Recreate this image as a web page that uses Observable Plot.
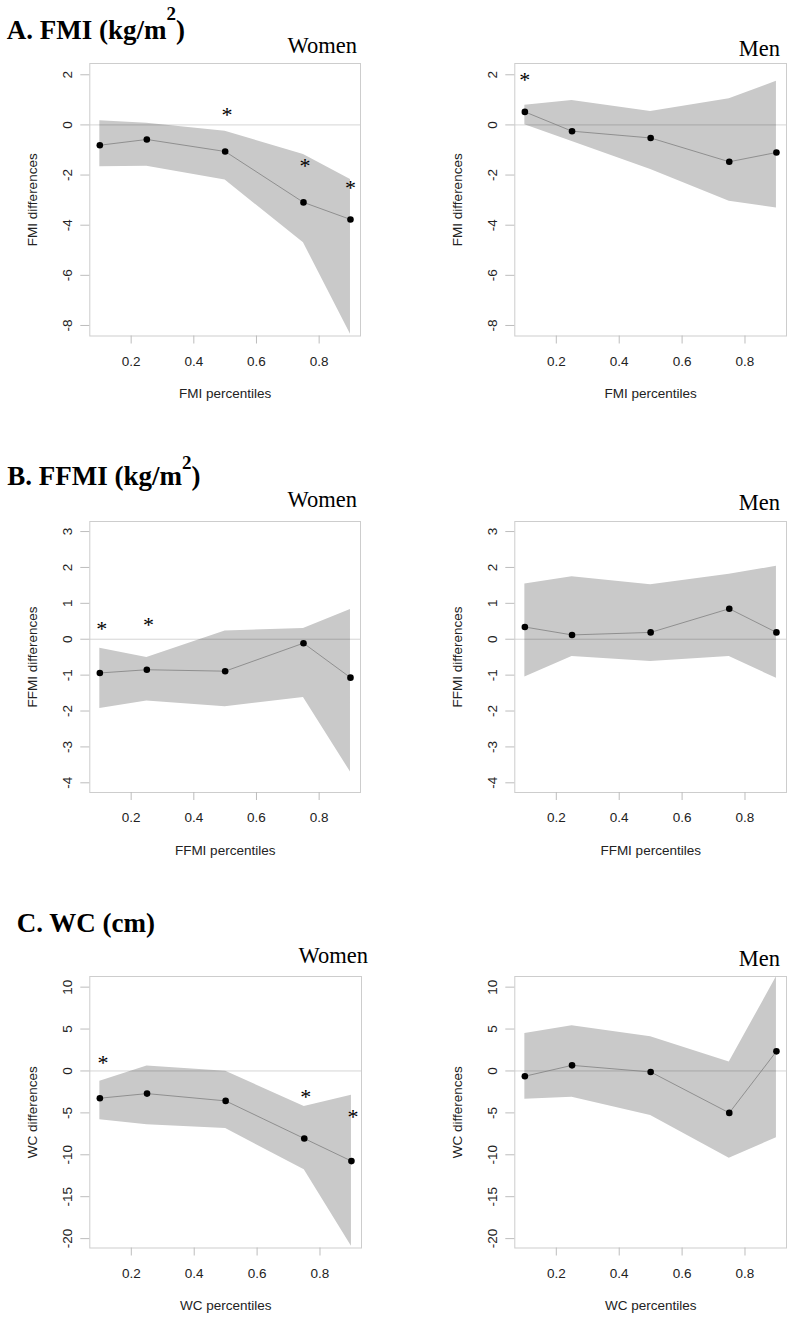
<!DOCTYPE html>
<html><head><meta charset="utf-8">
<script src="https://cdn.jsdelivr.net/npm/d3@7"></script>
<script src="https://cdn.jsdelivr.net/npm/@observablehq/plot@0.6"></script>
<style>
body{margin:0;background:#fff;}
#page{position:relative;width:792px;height:1319px;overflow:hidden;background:#fff;}
#page > svg{position:absolute;}
</style></head><body><div id="page"></div>
<script>
// ---- data ----
const percentiles = [0.1, 0.25, 0.5, 0.75, 0.9];
const xTicks = [0.2, 0.4, 0.6, 0.8];

const fmiWomenEst = [-0.81, -0.58, -1.06, -3.09, -3.77];
const fmiWomenLo  = [-1.67, -1.65, -2.20, -4.70, -8.35];
const fmiWomenHi  = [0.17, 0.07, -0.25, -1.18, -2.18];
const fmiWomenStarX = [0.506, 0.755, 0.9];
const fmiWomenStarY = [0.41, -1.65, -2.51];

const fmiMenEst = [0.52, -0.25, -0.52, -1.47, -1.10];
const fmiMenLo  = [0.01, -0.66, -1.78, -3.04, -3.31];
const fmiMenHi  = [0.78, 0.97, 0.54, 1.04, 1.74];
const fmiMenStarX = [0.1];
const fmiMenStarY = [1.8];

const ffmiWomenEst = [-0.94, -0.85, -0.89, -0.11, -1.07];
const ffmiWomenLo  = [-1.93, -1.72, -1.88, -1.62, -3.70];
const ffmiWomenHi  = [-0.25, -0.51, 0.23, 0.30, 0.83];
const ffmiWomenStarX = [0.106, 0.255];
const ffmiWomenStarY = [0.28, 0.40];

const ffmiMenEst = [0.34, 0.12, 0.19, 0.85, 0.19];
const ffmiMenLo  = [-1.05, -0.48, -0.62, -0.48, -1.09];
const ffmiMenHi  = [1.54, 1.74, 1.52, 1.81, 2.03];
const ffmiMenStarX = [];
const ffmiMenStarY = [];

const wcWomenEst = [-3.25, -2.70, -3.57, -8.06, -10.75];
const wcWomenLo  = [-5.83, -6.43, -6.87, -11.79, -20.9];
const wcWomenHi  = [-1.23, 0.60, -0.02, -4.25, -2.90];
const wcWomenStarX = [0.11, 0.755, 0.905];
const wcWomenStarY = [0.9, -3.13, -5.5];

const wcMenEst = [-0.63, 0.67, -0.12, -5.0, 2.34];
const wcMenLo  = [-3.37, -3.13, -5.32, -10.40, -7.98];
const wcMenHi  = [4.48, 5.40, 4.09, 1.07, 11.23];
const wcMenStarX = [];
const wcMenStarY = [];

const fmiYTicks = [-8, -6, -4, -2, 0, 2];
const ffmiYTicks = [-4, -3, -2, -1, 0, 1, 2, 3];
const wcYTicks = [-20, -15, -10, -5, 0, 5, 10];

const page = document.getElementById("page");

function panel(o) {
  const {est, lo, hi, starX, starY, ylabel, xlabel, yDomain, yTicks, l, r, t, b, col} = o;
  const svgLeft = col === 0 ? 0 : 396;
  const W = 396;
  const svgTop = t - 12;
  const H = (b - t) + 12 + 75;
  const rows = percentiles.map((p, i) => ({p, est: est[i], lo: lo[i], hi: hi[i]}));
  const stars = starX.map((x, i) => ({x, y: starY[i]}));
  const svg = Plot.plot({
    width: W, height: H,
    marginLeft: l - svgLeft, marginRight: svgLeft + W - r,
    marginTop: t - svgTop, marginBottom: svgTop + H - b,
    x: {domain: [0.068, 0.932], label: null},
    y: {domain: yDomain, label: null},
    style: {fontFamily: "'Liberation Sans', Arial, sans-serif", fontSize: "13.5px", color: "#222", background: "transparent", overflow: "visible"},
    marks: [
      Plot.areaY(rows, {x: "p", y1: "lo", y2: "hi", fill: "#c9c9c9"}),
      Plot.ruleY([0], {stroke: "#000", strokeOpacity: 0.17, strokeWidth: 1}),
      Plot.line(rows, {x: "p", y: "est", stroke: "#808080", strokeWidth: 0.8}),
      Plot.dot(rows, {x: "p", y: "est", r: 3.3, fill: "#000", stroke: "none"}),
      Plot.text(stars, {x: "x", y: "y", text: () => "*", fontFamily: "'Liberation Serif', 'Times New Roman', serif", fontSize: 22, dy: 0, fill: "#000"}),
      Plot.frame({stroke: "#cdcdcd"}),
      Plot.axisX({ticks: xTicks, tickSize: 8, tickPadding: 12, stroke: "#bdbdbd", fill: "#222", label: null, tickFormat: d => String(d)}),
      Plot.axisY({ticks: yTicks, tickSize: 9, stroke: "#bdbdbd", tickFormat: () => "", label: null}),
      Plot.text(yTicks, {y: d => d, text: d => String(d), frameAnchor: "left", dx: -22.6, rotate: -90, textAnchor: "middle", lineAnchor: "middle", fill: "#222", fontSize: 13.5}),
      Plot.text([ylabel], {text: d => d, frameAnchor: "left", dx: -57, rotate: -90, textAnchor: "middle", lineAnchor: "middle", fill: "#222", fontSize: 13.5}),
      Plot.text([xlabel], {text: d => d, frameAnchor: "bottom", dy: 58, textAnchor: "middle", lineAnchor: "middle", fill: "#222", fontSize: 13.5})
    ]
  });
  svg.style.left = svgLeft + "px";
  svg.style.top = svgTop + "px";
  page.appendChild(svg);
}

panel({est: fmiWomenEst, lo: fmiWomenLo, hi: fmiWomenHi, starX: fmiWomenStarX, starY: fmiWomenStarY,
  ylabel: "FMI differences", xlabel: "FMI percentiles", yDomain: [-8.42, 2.45], yTicks: fmiYTicks,
  l: 89.3, r: 360, t: 62.5, b: 335, col: 0});
panel({est: fmiMenEst, lo: fmiMenLo, hi: fmiMenHi, starX: fmiMenStarX, starY: fmiMenStarY,
  ylabel: "FMI differences", xlabel: "FMI percentiles", yDomain: [-8.42, 2.45], yTicks: fmiYTicks,
  l: 514.3, r: 786, t: 62.5, b: 335, col: 1});
panel({est: ffmiWomenEst, lo: ffmiWomenLo, hi: ffmiWomenHi, starX: ffmiWomenStarX, starY: ffmiWomenStarY,
  ylabel: "FFMI differences", xlabel: "FFMI percentiles", yDomain: [-4.27, 3.28], yTicks: ffmiYTicks,
  l: 89.3, r: 360, t: 520.7, b: 791.7, col: 0});
panel({est: ffmiMenEst, lo: ffmiMenLo, hi: ffmiMenHi, starX: ffmiMenStarX, starY: ffmiMenStarY,
  ylabel: "FFMI differences", xlabel: "FFMI percentiles", yDomain: [-4.27, 3.28], yTicks: ffmiYTicks,
  l: 514.3, r: 786, t: 520.7, b: 791.7, col: 1});
panel({est: wcWomenEst, lo: wcWomenLo, hi: wcWomenHi, starX: wcWomenStarX, starY: wcWomenStarY,
  ylabel: "WC differences", xlabel: "WC percentiles", yDomain: [-21.12, 11.27], yTicks: wcYTicks,
  l: 89.3, r: 361, t: 976.3, b: 1247.8, col: 0});
panel({est: wcMenEst, lo: wcMenLo, hi: wcMenHi, starX: wcMenStarX, starY: wcMenStarY,
  ylabel: "WC differences", xlabel: "WC percentiles", yDomain: [-21.12, 11.27], yTicks: wcYTicks,
  l: 514.3, r: 786, t: 976.3, b: 1247.8, col: 1});

// ---- titles and sex labels ----
const overlay = d3.create("svg").attr("width", 792).attr("height", 1319)
  .style("left", "0px").style("top", "0px").style("pointer-events", "none");
const serif = "'Liberation Serif', 'Times New Roman', serif";

function sectionTitle(x, y, main, supDy) {
  const t = overlay.append("text").attr("x", x).attr("y", y)
    .attr("font-family", serif).attr("font-weight", "bold").attr("font-size", 27).attr("fill", "#000");
  t.append("tspan").text(main);
  if (supDy != null) {
    t.append("tspan").attr("font-size", 19).attr("dy", supDy).text("2");
    t.append("tspan").attr("font-size", 27).attr("dy", -supDy).text(")");
  }
}
sectionTitle(6.7, 39, "A. FMI (kg/m", -19);
sectionTitle(7.3, 485, "B. FFMI (kg/m", -16);
sectionTitle(16.7, 932, "C. WC (cm)", null);

const sexLabels = [
  {x: 357, y: 53, s: "Women"}, {x: 780, y: 55.7, s: "Men"},
  {x: 357, y: 507.3, s: "Women"}, {x: 780, y: 510, s: "Men"},
  {x: 368, y: 963.3, s: "Women"}, {x: 780, y: 965.7, s: "Men"}
];
for (const d of sexLabels) {
  overlay.append("text").attr("x", d.x).attr("y", d.y).attr("text-anchor", "end")
    .attr("font-family", serif).attr("font-size", 22.5).attr("fill", "#000").text(d.s);
}
page.appendChild(overlay.node());
</script></body></html>
